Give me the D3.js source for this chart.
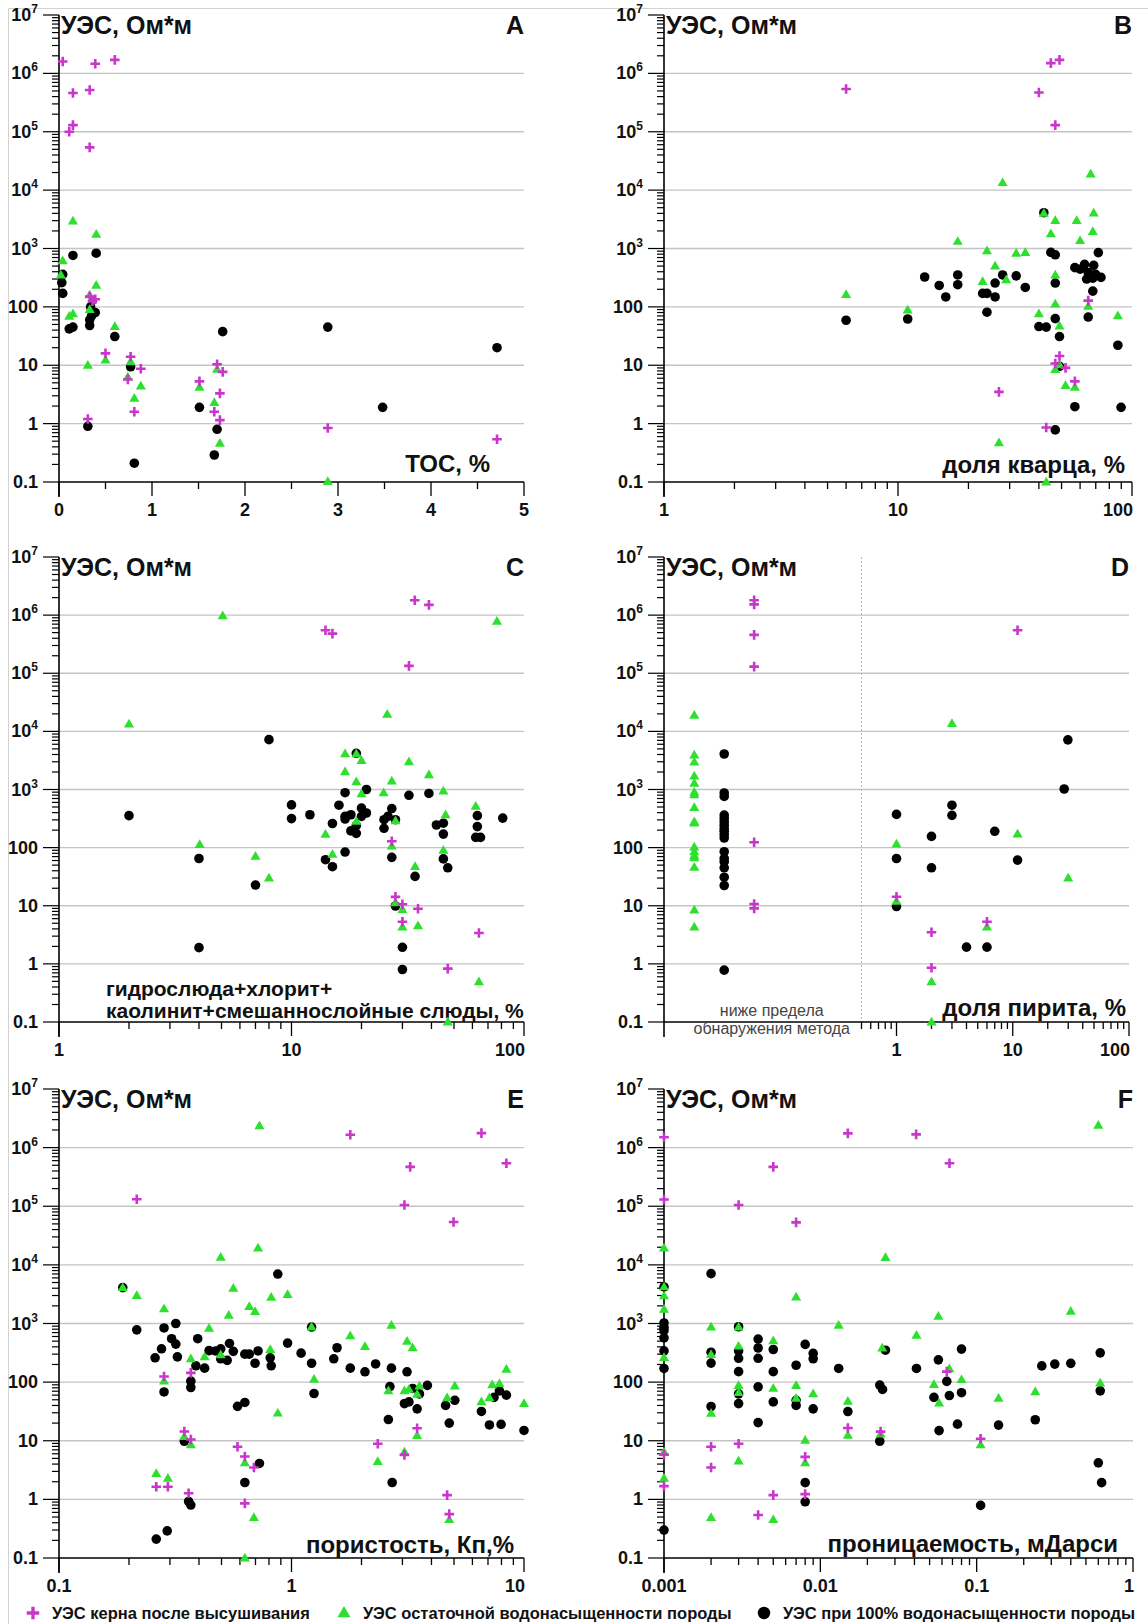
<!DOCTYPE html>
<html>
<head>
<meta charset="utf-8">
<title>УЭС пород</title>
<script src="https://cdn.jsdelivr.net/npm/d3@7"></script>
<style>
html, body { margin: 0; padding: 0; background: #fff; }
svg text { font-family: "Liberation Sans", Arial, sans-serif; fill: #111; }
.tlab { font-weight: 700; font-size: 18px; }
.ptitle { font-weight: 700; font-size: 25px; }
.xtitle { font-weight: 700; font-size: 24px; }
.xtitle.small { font-size: 21px; }
.note { font-size: 16px; fill: #444; }
.leg { font-weight: 700; font-size: 16.5px; }
</style>
</head>
<body>
<svg id="fig" width="1148" height="1624"></svg>
<script>
// ---- data: [x, УЭС Ом*м] ----
// A: TOC, %
var tocDry = [[0.04,1.6e6],[0.39,1.46e6],[0.6,1.7e6],[0.33,5.2e5],[0.15,4.6e5],[0.11,1.0e5],[0.15,1.3e5],[0.33,5.4e4],[0.33,150],[0.36,125],[0.39,135],[0.5,16],[0.77,14],[0.74,5.7],[0.88,8.7],[0.81,1.6],[0.31,1.2],[1.51,5.3],[1.7,10.4],[1.76,7.7],[1.73,3.3],[1.67,1.6],[1.73,1.15],[2.89,0.84],[4.71,0.54]];
var tocResid = [[0.04,615],[0.02,350],[0.15,2950],[0.4,1750],[0.4,234],[0.33,160],[0.33,90],[0.11,69],[0.15,76],[0.6,46],[0.31,10],[0.5,12.3],[0.77,11.4],[0.74,6.3],[0.88,4.4],[0.81,2.7],[1.51,4.2],[1.67,2.3],[1.7,8.5],[1.73,0.46],[2.89,0.102]];
var tocSat = [[0.04,360],[0.03,260],[0.04,170],[0.15,760],[0.4,830],[0.11,42],[0.15,45],[0.33,48],[0.33,60],[0.35,70],[0.39,80],[0.34,100],[0.6,31],[0.77,9.4],[0.31,0.9],[0.81,0.21],[1.51,1.9],[1.76,37.6],[1.7,0.8],[1.67,0.29],[2.89,45],[3.48,1.9],[4.71,20]];

// B: доля кварца, %
var qDry = [[6,5.4e5],[40,4.7e5],[45,1.5e6],[49,1.7e6],[47,1.3e5],[27,3.5],[43,0.86],[49,14.4],[47,10.7],[52,9],[57,5.3],[65,128]];
var qResid = [[6,163],[11,88],[18,1320],[23,270],[24,910],[26,500],[28,13400],[29,290],[32,825],[35,850],[40,76],[42,4000],[45,1780],[47,3000],[47,352],[47,112],[49,47],[47,8.4],[49,10.2],[52,4.5],[57,4.2],[58,3000],[60,1360],[65,102],[66.6,18900],[68.6,4050],[68,1950],[87,70],[27,0.47],[43,0.1]];
var qSat = [[6,59],[11,62],[13,325],[15,233],[16,148],[18,352],[18,240],[23,170],[24,170],[24,81],[26,148],[26,256],[28,352],[32,340],[35,215],[40,46],[43,45],[42,4100],[45,857],[47,780],[47,256],[47,63],[49,31],[49,9.6],[47,0.78],[57,470],[60,442],[62.7,535],[65,386],[68.6,515],[68,310],[69.8,363],[73.7,320],[71.8,850],[65,67],[68,186],[57,1.95],[87,22],[89.8,1.9],[64,300]];

// C: гидрослюда+хлорит+каолинит+смешаннослойные слюды, %
var cDry = [[14,5.5e5],[15,4.8e5],[33.9,1.8e6],[39,1.5e6],[32,1.34e5],[27,129],[28,14.2],[30,10.6],[35,8.9],[30,5.3],[64,3.4],[47,0.83]];
var cResid = [[2,13300],[5.06,9.7e5],[76.5,7.8e5],[4.03,113],[7,71],[8,30],[14,170],[15,77],[17,4100],[17,2020],[19,4100],[19,1350],[20,3140],[20,845],[19,282],[25.8,19700],[24.9,880],[27,1400],[27,106],[28,290],[32,3000],[34,47],[35,4.5],[30,8.6],[30,4.3],[28,11.2],[39,1780],[45,940],[46,368],[45,90],[62,515],[64,0.49],[47,0.1]];
var cSat = [[2,355],[4,65],[4,1.9],[7,22.7],[8,7200],[10,543],[10,316],[12,368],[14,62],[15,260],[15,47],[16,537],[17,880],[17,345],[17,310],[17,84],[18,368],[18,194],[19,4200],[19,240],[19,176],[20,480],[20,345],[21,1000],[21,394],[25,302],[25,215],[26,345],[27,470],[27,68],[28,302],[28,9.9],[30,1.93],[30,0.8],[32,795],[34,32],[39,855],[42,245],[45,263],[45,171],[45,64],[47,45],[63,355],[63,230],[62,150],[65,150],[81,322]];

// D: доля пирита, %  (ниже предела обнаружения — отдельные столбцы)
var pyrDetectLimit = 0.5;
var pyrBelowResid = [18800,3900,2950,1700,1280,893,812,489,278,264,102,85,73,67,46,8.4,4.3];
var pyrBelowSat = [4080,870,760,363,318,278,243,212,191,167,146,85,65,57,45,31,22.3,0.78];
var pyrBelowDry = [1.8e6,1.53e6,4.57e5,1.3e5,124,10.7,9];
var pyrDry = [[11,5.5e5],[1,14.3],[2,3.5],[2,0.86],[6,5.3]];
var pyrResid = [[3,13600],[1,115],[1,11.9],[11,171],[30,30],[6,4.3],[2,0.49],[2,0.1]];
var pyrSat = [[1,373],[1,65],[1,9.7],[2,156],[2,45],[3,537],[3,359],[7,191],[11,61],[4,1.94],[6,1.94],[27.7,1020],[29.8,7150]];

// E: пористость, Кп %
var poDry = [[0.216,1.32e5],[1.79,1.66e6],[6.56,1.77e6],[8.4,5.4e5],[3.24,4.7e5],[3.06,1.05e5],[4.98,5.4e4],[0.283,125],[0.369,144],[0.346,14.4],[0.369,10.5],[0.262,1.64],[0.294,1.64],[0.361,1.27],[0.586,7.9],[0.63,5.4],[0.689,3.5],[0.63,0.855],[2.35,8.9],[3.06,5.75],[3.47,16.3],[4.67,1.18],[4.77,0.56]];
var poResid = [[0.188,4100],[0.216,2990],[0.283,1780],[0.283,104],[0.369,250],[0.369,8.5],[0.346,11.8],[0.442,830],[0.423,271],[0.496,13400],[0.496,291],[0.537,1380],[0.562,3990],[0.658,1950],[0.697,1590],[0.718,19300],[0.728,2.35e6],[0.818,2790],[0.81,360],[0.962,3120],[0.873,29.5],[1.22,870],[1.25,112],[0.63,4.2],[0.689,0.49],[0.63,0.1],[0.262,2.76],[0.294,2.29],[1.79,615],[2.07,403],[2.69,927],[2.61,71],[3.14,497],[3.32,386],[3.06,71],[3.2,75],[3.55,86],[3.47,62],[3.47,12.2],[2.35,4.4],[3.06,6.4],[4.67,54],[5.04,86],[4.77,0.45],[6.56,46],[7.3,90],[7.1,54],[7.84,94],[8.4,166],[10,43]];
var poSat = [[0.188,4100],[0.216,780],[0.259,260],[0.276,370],[0.283,840],[0.283,68],[0.305,550],[0.318,1000],[0.318,445],[0.323,270],[0.346,9.8],[0.361,0.92],[0.369,0.8],[0.369,104],[0.369,81],[0.388,190],[0.395,550],[0.423,173],[0.442,345],[0.471,340],[0.496,250],[0.496,370],[0.529,235],[0.541,457],[0.562,335],[0.586,38.6],[0.63,45],[0.63,300],[0.658,300],[0.697,210],[0.718,340],[0.728,4.1],[0.63,1.94],[0.81,260],[0.818,190],[0.873,6980],[0.962,463],[1.1,312],[1.22,870],[1.22,210],[1.25,64],[1.52,250],[1.57,386],[1.79,173],[2.07,150],[2.3,204],[2.69,173],[2.65,84],[2.61,23],[2.71,1.94],[3.14,150],[3.06,43],[3.2,46],[3.32,78],[3.55,63],[3.47,35],[3.84,88],[4.6,40],[4.77,20],[5.04,49],[6.56,31.6],[7.1,18.6],[7.43,55],[7.84,71],[7.97,19],[8.4,60],[10,15],[0.262,0.21],[0.292,0.29]];

// F: проницаемость, мДарси
var pmDry = [[0.001,1.5e6],[0.001,1.3e5],[0.001,5.8],[0.001,1.68],[0.003,1.05e5],[0.005,4.7e5],[0.007,5.3e4],[0.015,1.75e6],[0.041,1.68e6],[0.067,5.4e5],[0.002,7.9],[0.002,3.5],[0.003,8.9],[0.004,0.54],[0.005,1.18],[0.008,5.3],[0.008,1.23],[0.015,16.5],[0.0243,14.3],[0.0644,151],[0.106,10.8]];
var pmResid = [[0.001,19300],[0.001,4200],[0.001,2950],[0.001,1740],[0.001,263],[0.001,6.4],[0.001,2.29],[0.002,865],[0.002,295],[0.002,29.4],[0.002,0.49],[0.003,865],[0.003,410],[0.003,87],[0.003,66],[0.003,4.5],[0.005,507],[0.005,78],[0.005,0.45],[0.007,2830],[0.007,87],[0.007,53],[0.008,10.2],[0.008,4.2],[0.009,63],[0.0131,929],[0.015,47],[0.015,12.4],[0.0249,382],[0.0261,13300],[0.0243,13],[0.0412,627],[0.0533,91],[0.0569,1320],[0.0575,44],[0.0669,169],[0.08,110],[0.106,8.5],[0.138,53],[0.237,68],[0.4,1610],[0.6,2.4e6],[0.617,96]];
var pmSat = [[0.001,4200],[0.001,1020],[0.001,860],[0.001,760],[0.001,567],[0.001,341],[0.001,171],[0.001,0.3],[0.002,7080],[0.002,324],[0.002,211],[0.002,38.4],[0.003,880],[0.003,341],[0.003,255],[0.003,151],[0.003,63],[0.003,43],[0.004,543],[0.004,382],[0.004,255],[0.004,83],[0.004,20.4],[0.005,360],[0.005,151],[0.005,46],[0.007,194],[0.007,49],[0.007,40],[0.008,440],[0.008,1.93],[0.008,0.91],[0.009,309],[0.009,250],[0.009,35],[0.0131,171],[0.015,31.5],[0.024,89],[0.025,75],[0.0261,350],[0.024,9.8],[0.0412,171],[0.0533,55],[0.0569,240],[0.0575,14.9],[0.0644,103],[0.0669,59],[0.0754,19.2],[0.08,366],[0.08,66],[0.106,0.79],[0.138,18.5],[0.237,22.8],[0.261,189],[0.316,203],[0.4,209],[0.617,316],[0.617,71],[0.6,4.2],[0.63,1.93]];

var yDomain = [0.1, 1e7];
var yTitle = "УЭС, Ом*м";
var legendLabels = ["УЭС керна после высушивания", "УЭС остаточной водонасыщенности породы", "УЭС при 100% водонасыщенности породы"];

// ---- style ----
var colDry = "#c936cc", colResid = "#2ee02e", colSat = "#000";
var gridCol = "#c4c4c4";

var svg = d3.select("#fig");

// frame of the original picture (top and left edges only)
svg.append("line").attr("x1", 8.5).attr("x2", 1148).attr("y1", 8.5).attr("y2", 8.5).attr("stroke", "#d2d2d2");
svg.append("line").attr("x1", 8.5).attr("x2", 8.5).attr("y1", 8.5).attr("y2", 1624).attr("stroke", "#d2d2d2");

var cols = [{left: 59, right: 524}, {left: 664, right: 1132}];
var rows = [{top: 15, bottom: 482}, {top: 557, bottom: 1022}, {top: 1089, bottom: 1558}];

var panels = [
  {letter: "A", c: 0, r: 0, log: false, domain: [0, 5], sets: [tocSat, tocResid, tocDry],
   xt: [{t: "ТОС, %", x: 490, dy: -10, anchor: "end"}]},
  {letter: "B", c: 1, r: 0, log: true, domain: [1, 100], sets: [qSat, qResid, qDry],
   xt: [{t: "доля кварца, %", x: 1125, dy: -9, anchor: "end"}]},
  {letter: "C", c: 0, r: 1, log: true, domain: [1, 100], sets: [cSat, cResid, cDry],
   xt: [{t: "гидрослюда+хлорит+", x: 106, dy: -26, anchor: "start", small: true},
        {t: "каолинит+смешаннослойные слюды, %", x: 106, dy: -4, anchor: "start", small: true}]},
  {letter: "D", c: 1, r: 1, log: true, domain: [0.01, 100], right: 1129, sets: [pyrSat, pyrResid, pyrDry],
   below: {sat: pyrBelowSat, resid: pyrBelowResid, dry: pyrBelowDry},
   xt: [{t: "доля пирита, %", x: 1126, dy: -6, anchor: "end"}]},
  {letter: "E", c: 0, r: 2, log: true, domain: [0.1, 10], sets: [poSat, poResid, poDry],
   xt: [{t: "пористость, Кп,%", x: 514, dy: -5, anchor: "end"}]},
  {letter: "F", c: 1, r: 2, log: true, domain: [0.001, 1], right: 1133, sets: [pmSat, pmResid, pmDry],
   xt: [{t: "проницаемость, мДарси", x: 1118, dy: -6, anchor: "end"}]}
];

var isDecade = function(v) { var l = Math.log10(v); return Math.abs(l - Math.round(l)) < 1e-6; };

function markers(scale) {
  var a = 4.8 * scale;
  return {
    tri: d3.symbol().type(d3.symbolTriangle).size(44 * scale * scale)(),
    plus: "M" + (-a) + ",0H" + a + "M0," + (-a) + "V" + a,
    r: 4.8 * scale,
    sw: 2.6 * scale
  };
}

function drawMarks(g, pts, kind, scale) {
  var m = markers(scale || 1);
  if (kind === 0) {
    g.selectAll(null).data(pts).enter().append("circle")
      .attr("cx", function(d) { return d[0]; }).attr("cy", function(d) { return d[1]; })
      .attr("r", m.r).attr("fill", colSat);
  } else if (kind === 1) {
    g.selectAll(null).data(pts).enter().append("path")
      .attr("d", m.tri).attr("fill", colResid)
      .attr("transform", function(d) { return "translate(" + d[0] + "," + (d[1] + 0.5) + ")"; });
  } else {
    g.selectAll(null).data(pts).enter().append("path")
      .attr("d", m.plus).attr("stroke", colDry).attr("stroke-width", m.sw).attr("fill", "none")
      .attr("transform", function(d) { return "translate(" + d[0] + "," + d[1] + ")"; });
  }
}

function yLabel(t, v) {
  var e = Math.round(Math.log10(v));
  if (e >= 3) {
    t.append("tspan").text("10");
    t.append("tspan").attr("dy", -8).attr("font-size", 12).text(e);
  } else {
    t.text(String(v));
  }
}

panels.forEach(function(p) {
  var left = cols[p.c].left, right = p.right || cols[p.c].right;
  var top = rows[p.r].top, bottom = rows[p.r].bottom;
  var x = (p.log ? d3.scaleLog() : d3.scaleLinear()).domain(p.domain).range([left, right]);
  var y = d3.scaleLog().domain(yDomain).range([bottom, top]);
  var g = svg.append("g");

  var yt = y.ticks();
  // grid at decades
  g.selectAll(null).data(yt.filter(function(v) { return isDecade(v) && v > 0.1 && v < 1e7; }))
    .enter().append("line")
    .attr("x1", left).attr("x2", right)
    .attr("y1", function(v) { return y(v); }).attr("y2", function(v) { return y(v); })
    .attr("stroke", gridCol).attr("stroke-width", 1.4);

  // detection limit line for pyrite
  if (p.below) {
    g.append("line").attr("x1", x(pyrDetectLimit)).attr("x2", x(pyrDetectLimit))
      .attr("y1", top).attr("y2", bottom)
      .attr("stroke", "#b8b8b8").attr("stroke-dasharray", "2,2");
  }

  // y axis
  g.append("line").attr("x1", left).attr("x2", left).attr("y1", top).attr("y2", bottom + 15)
    .attr("stroke", "#000").attr("stroke-width", 1.6);
  g.selectAll(null).data(yt).enter().append("line")
    .attr("x1", function(v) { return left - (isDecade(v) ? 16 : 7); }).attr("x2", left)
    .attr("y1", function(v) { return y(v); }).attr("y2", function(v) { return y(v); })
    .attr("stroke", "#000").attr("stroke-width", 1.2);
  g.selectAll(null).data(yt.filter(isDecade)).enter().append("text")
    .attr("class", "tlab").attr("text-anchor", "end")
    .attr("x", left - 21).attr("y", function(v) { return y(v) + 6; })
    .each(function(v) { yLabel(d3.select(this), v); });

  // x axis
  g.append("line").attr("x1", left).attr("x2", right).attr("y1", bottom).attr("y2", bottom)
    .attr("stroke", "#000").attr("stroke-width", 1.6);
  var xt, isMajor, xlab;
  if (p.log) {
    xt = x.ticks().filter(function(v) { return !p.below || v >= pyrDetectLimit - 1e-9; });
    isMajor = isDecade;
  } else {
    xt = d3.range(p.domain[0], p.domain[1] + 0.01, 0.5);
    isMajor = function(v) { return Number.isInteger(v); };
  }
  xlab = xt.filter(isMajor);
  g.selectAll(null).data(xt).enter().append("line")
    .attr("x1", function(v) { return x(v); }).attr("x2", function(v) { return x(v); })
    .attr("y1", bottom).attr("y2", function(v) { return bottom + (isMajor(v) ? 14 : 7); })
    .attr("stroke", "#000").attr("stroke-width", 1.3);
  g.selectAll(null).data(xlab).enter().append("text")
    .attr("class", "tlab")
    .attr("text-anchor", function(v, i) { return p.log && i === xlab.length - 1 ? "end" : "middle"; })
    .attr("x", function(v, i) { return p.log && i === xlab.length - 1 ? right + 1 : x(v); })
    .attr("y", bottom + 34)
    .text(function(v) { return String(v); });

  // titles
  g.append("text").attr("class", "ptitle").attr("x", left + 2).attr("y", top + 19).text(yTitle);
  g.append("text").attr("class", "ptitle").attr("text-anchor", "end").attr("x", right).attr("y", top + 19).text(p.letter);
  p.xt.forEach(function(t) {
    g.append("text").attr("class", t.small ? "xtitle small" : "xtitle").attr("text-anchor", t.anchor)
      .attr("x", t.x).attr("y", bottom + t.dy).text(t.t);
  });

  // below-detection columns for pyrite
  var belowPts = [[], [], []];
  if (p.below) {
    var cat = d3.scalePoint().domain(["resid", "sat", "dry"])
      .range([left, x(pyrDetectLimit)]).padding(2.3).align(0.22);
    g.append("text").attr("class", "note").attr("text-anchor", "middle")
      .attr("x", (left + x(pyrDetectLimit)) / 2 + 9).attr("y", bottom - 6).text("ниже предела");
    g.append("text").attr("class", "note").attr("text-anchor", "middle")
      .attr("x", (left + x(pyrDetectLimit)) / 2 + 9).attr("y", bottom + 12).text("обнаружения метода");
    belowPts[0] = p.below.sat.map(function(v) { return [cat("sat"), y(v)]; });
    belowPts[1] = p.below.resid.map(function(v) { return [cat("resid"), y(v)]; });
    belowPts[2] = p.below.dry.map(function(v) { return [cat("dry"), y(v)]; });
  }

  p.sets.forEach(function(s, k) {
    var pts = s.map(function(d) { return [x(d[0]), y(d[1])]; }).concat(belowPts[k]);
    drawMarks(g.append("g"), pts, k);
  });
});

// legend
var legY = 1613;
var legItems = [{k: 2, x: 33}, {k: 1, x: 344}, {k: 0, x: 764}];
legItems.forEach(function(it, i) {
  var lg = svg.append("g");
  drawMarks(lg, [[it.x, legY]], it.k, 1.3);
  lg.append("text").attr("class", "leg").attr("x", it.x + 19).attr("y", legY + 6).text(legendLabels[i]);
});
</script>
</body>
</html>
